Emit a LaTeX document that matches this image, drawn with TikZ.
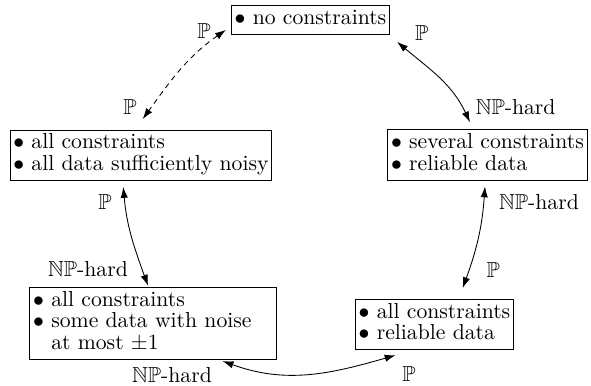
\documentclass[tikz,border=0pt]{standalone}
\usepackage{amssymb}
\usetikzlibrary{arrows.meta}
\newcommand\boxtext[1]{{\renewcommand\arraystretch{0.8333}\begin{tabular}{@{}l@{}}#1\end{tabular}}}
\newcommand\boxtextw[2]{{\renewcommand\arraystretch{0.8333}\begin{tabular}{@{}p{#1}@{}}#2\end{tabular}}}
\begin{document}
\begin{tikzpicture}[x=0.4608pt,y=-0.4608pt,
  box/.style={draw,line width=0.5pt,inner xsep=1.5pt,inner ysep=1.6pt},
  lbl/.style={inner sep=0pt},
  arr/.style={{Latex[length=5pt,width=3.4pt]}-{Latex[length=5pt,width=3.4pt]},line width=0.4pt},
  dsh/.style={dash pattern=on 2.5pt off 2pt}]
\useasboundingbox (0,0) rectangle (591,385);
\node[box] (top) at (310.5,20) {\boxtext{$\bullet$ no constraints}};
\node[box] (left) at (141,155.5) {\boxtext{$\bullet$ all constraints\\ $\bullet$ all data sufficiently noisy}};
\node[box] (right) at (487.5,155) {\boxtext{$\bullet$ several constraints\\ $\bullet$ reliable data}};
\node[box] (bleft) at (153,323.5) {\boxtextw{110.4pt}{$\bullet$ all constraints\\ $\bullet$ some data with noise\\ \phantom{$\bullet$} at most $\pm1$}};
\node[box] (bright) at (434.5,324.5) {\boxtext{$\bullet$ all constraints\\ $\bullet$ reliable data}};

\draw[arr,dsh] ([shift={(-5,-5)}]top.south west) to[out=215,in=54] ([shift={(1.7,-10.7)}]left.north);
\draw[arr] ([shift={(7,7)}]top.south east) to[out=-40,in=115] ([shift={(-17.5,-7)}]right.north);
\draw[arr] ([shift={(-2.5,5.7)}]right.south) to[out=-94,in=70] ([shift={(28.2,-10.7)}]bright.north);
\draw[arr] ([shift={(-17.7,5.7)}]left.south) to[out=-85,in=110] ([shift={(-5,-1.3)}]bleft.north);
\draw[arr] ([shift={(-54,1)}]bleft.south east) to[out=-20,in=196] ([shift={(40.7,5)}]bright.south west);

\node[lbl] (l1) at (204,31) {$\mathbb{P}$};
\node[lbl] (l2) at (130,106.7) {$\mathbb{P}$};
\node[lbl] (l3) at (421.7,33) {$\mathbb{P}$};
\node[lbl] (l4) at (515.7,106.7) {$\mathbb{NP}$-hard};
\node[lbl] (l5) at (539,202.5) {$\mathbb{NP}$-hard};
\node[lbl] (l6) at (493.3,270) {$\mathbb{P}$};
\node[lbl] (l7) at (105,202) {$\mathbb{P}$};
\node[lbl] (l8) at (88,269) {$\mathbb{NP}$-hard};
\node[lbl] (l9) at (172,375) {$\mathbb{NP}$-hard};
\node[lbl] (l10) at (409,374) {$\mathbb{P}$};
\end{tikzpicture}
\end{document}
